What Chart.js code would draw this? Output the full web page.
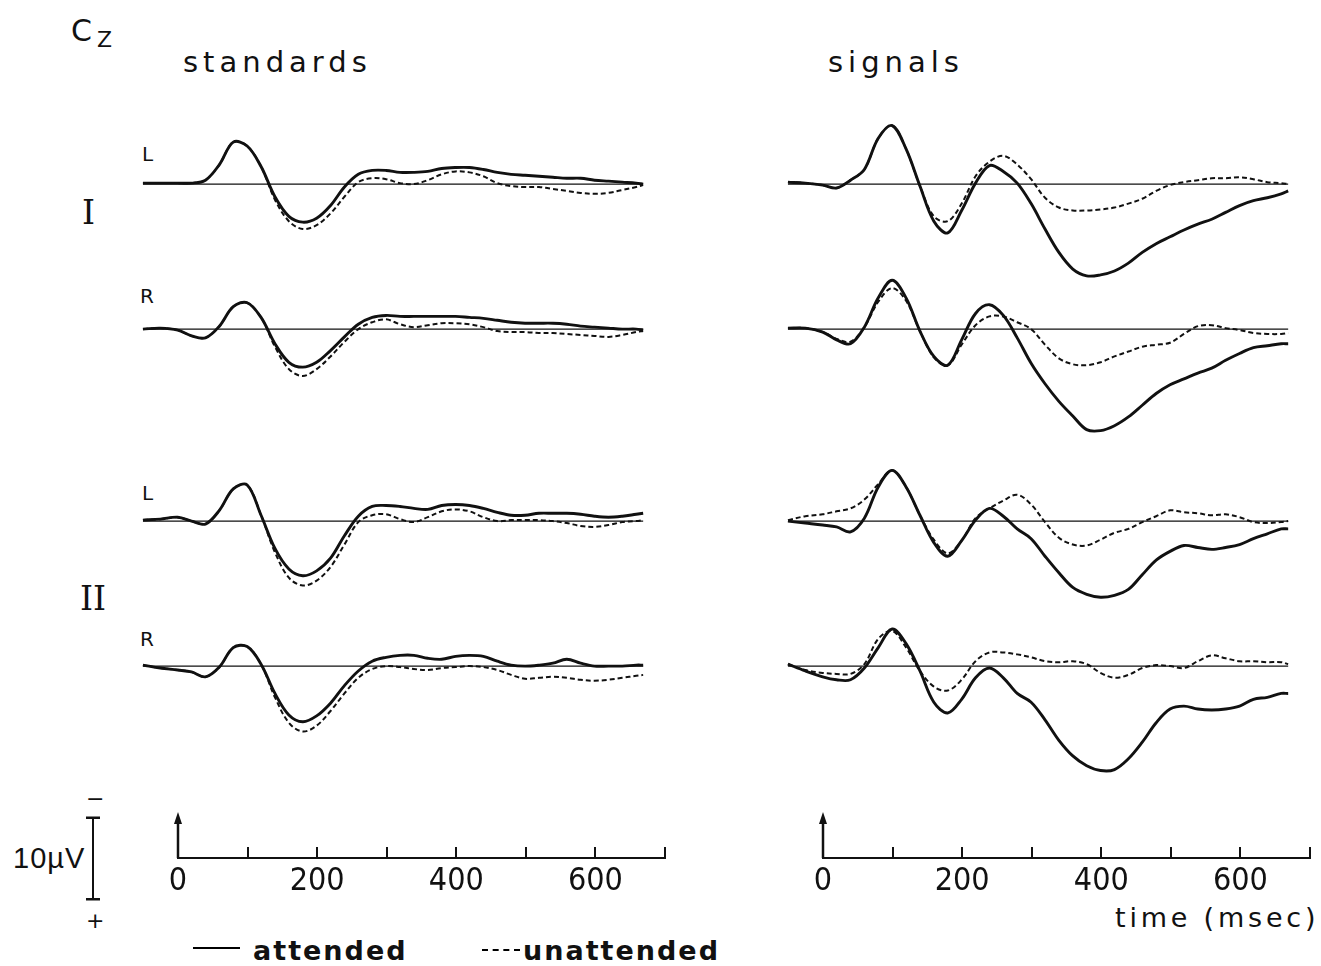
<!DOCTYPE html>
<html lang="en">
<head>
<meta charset="utf-8">
<title>Cz - standards and signals</title>
<script src="https://cdn.jsdelivr.net/npm/chart.js@4.4.1/dist/chart.umd.min.js"></script>
<style>
    body { margin: 0; background: #fff; }
    #page { position: relative; width: 1321px; height: 966px; overflow: hidden; background: #fff; color: #111; font-family: 'DejaVu Sans', sans-serif; }
    #page canvas { position: absolute; }
    .txt { position: absolute; line-height: 1; white-space: nowrap; }
    .head { font-size: 29px; letter-spacing: 5px; }
    .side { font-size: 20px; }
    .roman { font-family: 'DejaVu Serif', 'Liberation Serif', serif; font-size: 33px; }
    .legend { font-size: 27px; font-weight: bold; letter-spacing: 2px; }
    .legline { position: absolute; height: 0; }
</style>
</head>
<body>
<div id="page">
    <div class="txt" style="left:71px;top:16px;font-size:30px;">C</div>
    <div class="txt" style="left:97px;top:29px;font-size:22px;">Z</div>
    <div class="txt head" style="left:183px;top:48px;">standards</div>
    <div class="txt head" style="left:828px;top:48px;">signals</div>

    <div class="txt side" style="left:142px;top:144px;">L</div>
    <div class="txt side" style="left:140px;top:286px;">R</div>
    <div class="txt side" style="left:142px;top:483px;">L</div>
    <div class="txt side" style="left:140px;top:629px;">R</div>
    <div class="txt roman" style="left:82px;top:196px;">I</div>
    <div class="txt roman" style="left:80px;top:582px;">II</div>

    <div class="txt" style="left:13px;top:844px;font-family:'Liberation Sans',sans-serif;font-size:29px;letter-spacing:1px;">10&micro;V</div>
    <div class="txt" style="left:86px;top:788px;font-size:22px;">&minus;</div>
    <div class="txt" style="left:86px;top:910px;font-size:22px;">+</div>

    <div class="txt" style="left:1115px;top:904px;font-size:27px;letter-spacing:3.8px;">time (msec)</div>

    <div class="legline" style="left:193px;top:947px;width:47px;border-top:2.5px solid #000;"></div>
    <div class="txt legend" style="left:253px;top:937px;">attended</div>
    <div class="legline" style="left:482px;top:949px;width:38px;border-top:2px dashed #000;"></div>
    <div class="txt legend" style="left:523px;top:937px;">unattended</div>
</div>
<script>
'use strict';

const times = [-50, -25, 0, 20, 40, 60, 80, 100, 120, 140, 160, 180, 200, 220, 240, 260, 280, 300, 320, 340,
    360, 380, 400, 420, 440, 460, 480, 500, 520, 540, 560, 580, 600, 620, 640, 660, 670];

// amplitudes in microvolt, negative is plotted upwards
// standards, condition I, left
const stdIL_att = [-0.1, -0.1, -0.1, -0.1, -0.4, -2.0, -4.3, -3.9, -1.8, 1.3, 3.3, 3.9, 3.5, 2.2, 0.3, -1.0, -1.4, -1.4, -1.2, -1.2,
    -1.3, -1.6, -1.7, -1.7, -1.5, -1.2, -1.0, -0.9, -0.8, -0.7, -0.6, -0.6, -0.4, -0.3, -0.2, -0.1, 0.0];
const stdIL_un = [-0.1, -0.1, -0.1, -0.1, -0.4, -2.0, -4.3, -3.9, -1.8, 1.6, 3.8, 4.6, 4.2, 3.0, 1.3, -0.2, -0.6, -0.5, -0.1, 0.0,
    -0.4, -1.0, -1.3, -1.2, -0.8, -0.1, 0.2, 0.3, 0.3, 0.5, 0.7, 0.9, 1.0, 0.9, 0.6, 0.3, 0.1];
// standards, condition I, right
const stdIR_att = [0.0, -0.1, 0.1, 0.7, 0.9, -0.3, -2.3, -2.7, -1.2, 1.5, 3.4, 3.9, 3.4, 2.2, 0.8, -0.5, -1.2, -1.4, -1.3, -1.3,
    -1.3, -1.3, -1.3, -1.2, -1.1, -0.9, -0.7, -0.6, -0.6, -0.6, -0.5, -0.3, -0.2, -0.1, 0.0, 0.0, 0.1];
const stdIR_un = [0.0, -0.1, 0.1, 0.7, 0.9, -0.3, -2.3, -2.7, -1.2, 1.8, 4.1, 4.8, 4.1, 2.8, 1.3, 0.0, -0.7, -1.0, -0.5, -0.2,
    -0.4, -0.6, -0.6, -0.5, -0.2, 0.2, 0.3, 0.3, 0.4, 0.4, 0.5, 0.6, 0.7, 0.8, 0.6, 0.3, 0.2];
// standards, condition II, left
const stdIIL_att = [-0.1, -0.2, -0.4, 0.0, 0.3, -1.1, -3.3, -3.7, -0.6, 2.8, 4.9, 5.6, 5.1, 3.8, 1.5, -0.5, -1.5, -1.6, -1.5, -1.3,
    -1.2, -1.6, -1.7, -1.6, -1.3, -0.9, -0.6, -0.6, -0.8, -0.8, -0.8, -0.7, -0.5, -0.4, -0.5, -0.7, -0.8];
const stdIIL_un = [-0.1, -0.2, -0.4, 0.0, 0.3, -1.1, -3.3, -3.7, -0.6, 3.2, 5.8, 6.6, 6.1, 4.7, 2.4, 0.1, -0.6, -0.7, -0.2, 0.1,
    -0.4, -1.0, -1.2, -1.0, -0.4, 0.0, -0.1, -0.1, -0.1, 0.0, 0.2, 0.5, 0.6, 0.4, 0.1, 0.0, -0.1];
// standards, condition II, right
const stdIIR_att = [-0.1, 0.2, 0.4, 0.6, 1.1, 0.1, -1.9, -2.0, -0.2, 2.8, 5.0, 5.7, 5.1, 3.8, 2.0, 0.5, -0.5, -0.9, -1.1, -1.1,
    -0.8, -0.7, -1.0, -1.1, -1.0, -0.5, -0.1, 0.0, -0.1, -0.3, -0.7, -0.3, 0.0, 0.0, 0.0, -0.1, -0.1];
const stdIIR_un = [-0.1, 0.2, 0.4, 0.6, 1.1, 0.1, -1.9, -2.0, -0.2, 3.2, 5.8, 6.7, 6.1, 4.6, 2.8, 1.2, 0.3, 0.0, 0.1, 0.3,
    0.4, 0.2, 0.1, 0.0, 0.1, 0.4, 0.9, 1.3, 1.2, 1.1, 1.2, 1.4, 1.5, 1.4, 1.2, 1.0, 0.9];

// signals, condition I, left
const sigIL_att = [-0.2, -0.1, 0.1, 0.4, -0.4, -1.5, -4.7, -6.0, -3.6, 0.2, 3.8, 5.0, 2.7, -0.1, -1.9, -1.3, -0.1, 2.0, 4.6, 7.0,
    8.7, 9.4, 9.3, 8.9, 8.1, 7.0, 6.1, 5.4, 4.7, 4.1, 3.6, 2.9, 2.2, 1.7, 1.4, 1.0, 0.7];
const sigIL_un = [-0.2, -0.1, 0.1, 0.4, -0.4, -1.5, -4.7, -6.0, -3.6, 0.2, 3.3, 3.8, 2.0, -0.8, -2.3, -2.9, -2.0, -0.5, 1.4, 2.4,
    2.7, 2.7, 2.6, 2.4, 2.0, 1.5, 0.7, 0.1, -0.2, -0.4, -0.6, -0.6, -0.7, -0.5, -0.2, -0.1, 0.0];
// signals, condition I, right
const sigIR_att = [-0.1, -0.1, 0.3, 1.1, 1.5, -0.2, -3.2, -5.0, -3.2, 0.2, 2.8, 3.7, 1.1, -1.6, -2.5, -1.4, 0.9, 3.5, 5.6, 7.4,
    8.9, 10.3, 10.4, 9.9, 9.0, 7.8, 6.6, 5.7, 5.1, 4.5, 4.0, 3.2, 2.5, 1.9, 1.7, 1.5, 1.5];
const sigIR_un = [-0.1, -0.1, 0.3, 1.0, 1.3, -0.2, -2.8, -4.2, -2.9, 0.2, 2.9, 3.7, 1.6, -0.4, -1.3, -1.3, -0.7, 0.0, 1.6, 3.0,
    3.6, 3.7, 3.4, 2.8, 2.3, 1.8, 1.6, 1.4, 0.5, -0.3, -0.4, -0.1, 0.1, 0.4, 0.5, 0.5, 0.4];
// signals, condition II, left
const sigIIL_att = [0.0, 0.2, 0.4, 0.6, 1.1, -0.3, -3.5, -5.2, -3.5, -0.6, 2.2, 3.6, 2.0, -0.1, -1.3, -0.5, 0.8, 1.8, 3.6, 5.3,
    6.8, 7.5, 7.8, 7.6, 7.0, 5.5, 4.0, 3.1, 2.5, 2.7, 2.9, 2.7, 2.4, 1.8, 1.3, 0.8, 0.8];
const sigIIL_un = [-0.1, -0.5, -0.7, -1.0, -1.3, -2.2, -3.8, -5.2, -3.5, -0.6, 1.9, 3.3, 2.0, -0.3, -1.3, -2.1, -2.7, -1.7, 0.1, 1.7,
    2.4, 2.5, 1.9, 1.2, 0.8, 0.1, -0.5, -1.1, -0.9, -0.8, -0.6, -0.7, -0.4, 0.1, 0.2, 0.1, 0.0];
// signals, condition II, right
const sigIIR_att = [-0.2, 0.5, 1.1, 1.4, 1.4, 0.2, -1.9, -3.8, -2.3, 0.5, 3.7, 4.8, 3.4, 1.2, 0.2, 1.2, 2.8, 3.7, 5.5, 7.6,
    9.2, 10.2, 10.7, 10.6, 9.5, 7.8, 5.8, 4.4, 4.1, 4.4, 4.5, 4.4, 4.1, 3.4, 3.2, 2.8, 2.8];
const sigIIR_un = [-0.2, 0.4, 0.7, 0.8, 0.8, -0.2, -2.8, -3.6, -1.9, 0.5, 2.1, 2.5, 1.4, -0.5, -1.4, -1.4, -1.2, -0.9, -0.5, -0.4,
    -0.5, -0.2, 0.7, 1.2, 0.9, 0.2, -0.1, 0.0, 0.2, -0.5, -1.1, -0.8, -0.5, -0.5, -0.4, -0.4, -0.2];

// time axis
const timeTicks = [0, 100, 200, 300, 400, 500, 600, 700];
const timeLabels = [0, 200, 400, 600];
const scaleBarUV = 10;

// layout of the figure (pixels)
const PX_PER_MS = 0.695;
const PX_PER_UV = 9.75;
const T_MIN = -60;
const T_MAX = 700;
const UV_MIN = -8;
const UV_MAX = 13;
const colZeroX = { standards: 178, signals: 823 };
const rowZeroY = [184, 329, 521, 666];
const axisY = 858;

const panels = [
    { col: 'standards', row: 0, att: stdIL_att, unatt: stdIL_un },
    { col: 'standards', row: 1, att: stdIR_att, unatt: stdIR_un },
    { col: 'standards', row: 2, att: stdIIL_att, unatt: stdIIL_un },
    { col: 'standards', row: 3, att: stdIIR_att, unatt: stdIIR_un },
    { col: 'signals', row: 0, att: sigIL_att, unatt: sigIL_un },
    { col: 'signals', row: 1, att: sigIR_att, unatt: sigIR_un },
    { col: 'signals', row: 2, att: sigIIL_att, unatt: sigIIL_un },
    { col: 'signals', row: 3, att: sigIIR_att, unatt: sigIIR_un }
];

const tickFont = { family: "'Liberation Sans Narrow', 'DejaVu Sans Condensed', 'Liberation Sans', sans-serif", size: 32 };

/**
 * @brief creates an absolutely placed canvas on the page
 */
function makeCanvas(left, top, width, height) {
    const canvas = document.createElement('canvas');
    canvas.width = Math.round(width);
    canvas.height = Math.round(height);
    canvas.style.left = Math.round(left) + 'px';
    canvas.style.top = Math.round(top) + 'px';
    document.getElementById('page').appendChild(canvas);
    return canvas;
}

function toPoints(values) {
    return times.map((t, i) => ({ x: t, y: values[i] }));
}

const quiet = {
    responsive: false,
    animation: false,
    events: [],
    plugins: { legend: { display: false }, tooltip: { enabled: false } }
};

/**
 * @brief draws one pair of averaged curves with its zero line
 */
function drawPanel(panel) {
    const zeroX = colZeroX[panel.col];
    const zeroY = rowZeroY[panel.row];
    const canvas = makeCanvas(zeroX + T_MIN * PX_PER_MS, zeroY + UV_MIN * PX_PER_UV,
        (T_MAX - T_MIN) * PX_PER_MS, (UV_MAX - UV_MIN) * PX_PER_UV);

    new Chart(canvas, {
        type: 'line',
        data: {
            datasets: [{
                data: toPoints(times.map(() => 0)),
                borderColor: '#111',
                borderWidth: 1.3,
                tension: 0
            }, {
                label: 'unattended',
                data: toPoints(panel.unatt),
                borderColor: '#111',
                borderWidth: 2,
                borderDash: [5, 3],
                tension: 0.35
            }, {
                label: 'attended',
                data: toPoints(panel.att),
                borderColor: '#111',
                borderWidth: 2.9,
                tension: 0.35
            }]
        },
        options: {
            ...quiet,
            layout: { padding: 0 },
            elements: { point: { radius: 0 } },
            scales: {
                x: { type: 'linear', min: T_MIN, max: T_MAX, display: false },
                y: { type: 'linear', min: UV_MIN, max: UV_MAX, reverse: true, display: false }
            }
        }
    });
}

// upward arrow at stimulus onset
const onsetArrow = {
    id: 'onsetArrow',
    afterDraw(chart) {
        const ctx = chart.ctx;
        const x = chart.scales.x.getPixelForValue(0);
        const y0 = chart.chartArea.bottom;
        const y1 = y0 - 46;
        ctx.save();
        ctx.strokeStyle = '#111';
        ctx.fillStyle = '#111';
        ctx.lineWidth = 2.5;
        ctx.beginPath();
        ctx.moveTo(x, y0);
        ctx.lineTo(x, y1 + 8);
        ctx.stroke();
        ctx.beginPath();
        ctx.moveTo(x, y1);
        ctx.lineTo(x - 4, y1 + 12);
        ctx.lineTo(x + 4, y1 + 12);
        ctx.closePath();
        ctx.fill();
        ctx.restore();
    }
};

/**
 * @brief draws the time axis under one column
 */
function drawTimeAxis(col) {
    const padX = 40;
    const above = 56;
    const below = 50;
    const tickH = 11;
    const zeroX = colZeroX[col];
    const canvas = makeCanvas(zeroX - padX, axisY - above, 700 * PX_PER_MS + 2 * padX, above + below);

    new Chart(canvas, {
        type: 'line',
        data: { datasets: [] },
        options: {
            ...quiet,
            layout: { padding: { left: padX, right: padX, top: above - tickH, bottom: 0 } },
            scales: {
                x: {
                    type: 'linear',
                    min: 0,
                    max: 700,
                    afterBuildTicks: (axis) => { axis.ticks = timeTicks.map(v => ({ value: v })); },
                    afterFit: (axis) => { axis.height = below; },
                    grid: { drawOnChartArea: true, drawTicks: false, color: '#111', lineWidth: 2 },
                    border: { display: true, color: '#111', width: 2 },
                    ticks: {
                        autoSkip: false,
                        maxRotation: 0,
                        padding: 4,
                        color: '#111',
                        font: tickFont,
                        callback: (v) => timeLabels.includes(v) ? String(v) : ''
                    }
                },
                y: { display: false, min: 0, max: 1 }
            }
        },
        plugins: [onsetArrow]
    });
}

/**
 * @brief draws the 10 microvolt calibration bar
 */
function drawScaleBar() {
    const halfRange = 6;
    const centreY = 858.5;
    const canvas = makeCanvas(60, centreY - halfRange * PX_PER_UV, 66, 2 * halfRange * PX_PER_UV);
    new Chart(canvas, {
        type: 'line',
        data: {
            datasets: [{
                data: [{ x: 0, y: -scaleBarUV / 2 }, { x: 0, y: scaleBarUV / 2 }],
                borderColor: '#111',
                borderWidth: 2,
                pointStyle: 'line',
                pointRadius: 7,
                pointBorderWidth: 2.5,
                pointBorderColor: '#111'
            }]
        },
        options: {
            ...quiet,
            layout: { padding: 0 },
            scales: {
                x: { type: 'linear', min: -1, max: 1, display: false },
                y: { type: 'linear', min: -halfRange, max: halfRange, reverse: true, display: false }
            }
        }
    });
}

panels.forEach(drawPanel);
drawTimeAxis('standards');
drawTimeAxis('signals');
drawScaleBar();
</script>
</body>
</html>
